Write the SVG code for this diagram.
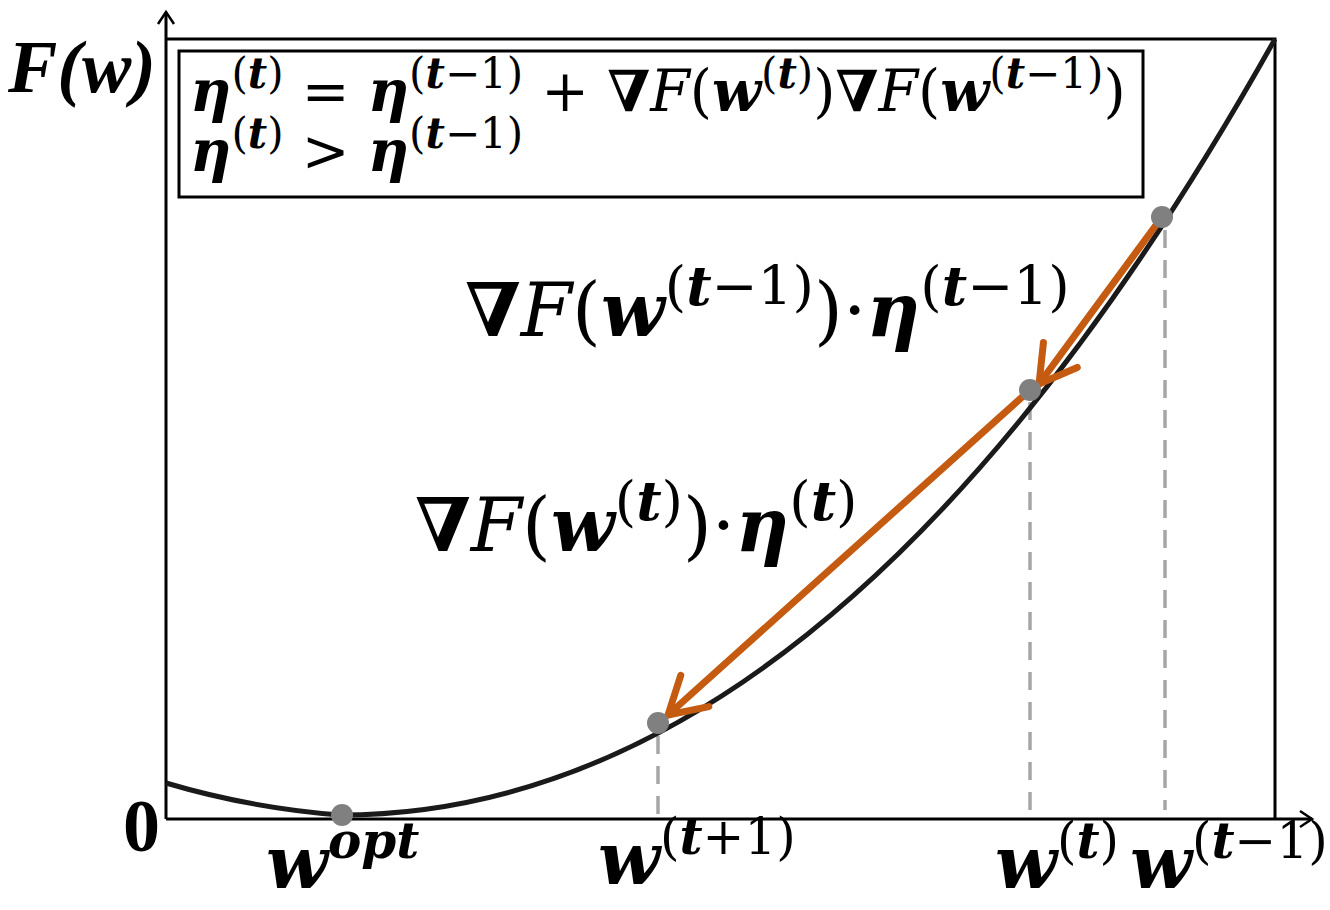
<svg xmlns="http://www.w3.org/2000/svg" width="1330" height="910" viewBox="0 0 1330 910">
<style>
.ax{stroke:#000;stroke-width:3;fill:none}
.t{font-family:"Liberation Serif","DejaVu Serif",serif;fill:#000}
.m{font-family:"DejaVu Serif","Liberation Serif",serif;fill:#000}
.bi{font-weight:bold;font-style:italic}
.i{font-style:italic}
.b{font-weight:bold}
.dash{stroke:#a6a6a6;stroke-width:3.5;stroke-dasharray:18 12;fill:none}
.arr{stroke:#c55a11;stroke-width:7;fill:none;stroke-linecap:round}
.pt{fill:#808080}
</style>
<defs>
<marker id="ah" markerUnits="userSpaceOnUse" markerWidth="60" markerHeight="60" viewBox="-50 -30 60 60" refX="0" refY="0" orient="auto" overflow="visible">
<path d="M-36,-21 L0,0 L-36,21" fill="none" stroke="#c55a11" stroke-width="7" stroke-linecap="round" stroke-linejoin="round"/>
</marker>
<marker id="ax" markerUnits="userSpaceOnUse" markerWidth="30" markerHeight="30" viewBox="-20 -15 30 30" refX="0" refY="0" orient="auto" overflow="visible">
<path d="M-12,-8 L0,0 L-12,8" fill="none" stroke="#000" stroke-width="2.5"/>
</marker>
</defs>
<rect width="1330" height="910" fill="#fff"/>
<g id="axes">
<line class="ax" x1="166" y1="819" x2="166" y2="12" marker-end="url(#ax)"/>
<line class="ax" x1="166" y1="819" x2="1312" y2="819" marker-end="url(#ax)"/>
<polyline class="ax" points="166,39 1275,39 1275,819"/>
</g>
<g id="guides">
<line class="dash" x1="658" y1="736" x2="658" y2="819"/>
<line class="dash" x1="1030" y1="402" x2="1030" y2="819"/>
<line class="dash" x1="1165" y1="230" x2="1165" y2="810"/>
</g>
<g id="curve">
<path d="M166,783 Q250,808 340,815 Q840,815 1275,39" fill="none" stroke="#1a1a1a" stroke-width="5"/>
</g>
<g id="formula-box">
<rect x="179" y="51" width="964" height="146" fill="none" stroke="#000" stroke-width="3"/>
<text class="m" x="190" y="111" font-size="57"><tspan class="bi">η</tspan><tspan font-size="42" dy="-23">(<tspan class="bi">t</tspan>)</tspan><tspan dy="23"> = </tspan><tspan class="bi">η</tspan><tspan font-size="42" dy="-23">(<tspan class="bi">t</tspan>−1)</tspan><tspan dy="23"> + </tspan><tspan class="b">∇</tspan><tspan class="i">F</tspan>(<tspan class="bi">w</tspan><tspan font-size="42" dy="-23">(<tspan class="bi">t</tspan>)</tspan><tspan dy="23">)</tspan><tspan class="b">∇</tspan><tspan class="i">F</tspan>(<tspan class="bi">w</tspan><tspan font-size="42" dy="-23">(<tspan class="bi">t</tspan>−1)</tspan><tspan dy="23">)</tspan></text>
<text class="m" x="190" y="171" font-size="57"><tspan class="bi">η</tspan><tspan font-size="42" dy="-23">(<tspan class="bi">t</tspan>)</tspan><tspan dy="23"> &gt; </tspan><tspan class="bi">η</tspan><tspan font-size="42" dy="-23">(<tspan class="bi">t</tspan>−1)</tspan></text>
</g>
<g id="connectors">
<line class="arr" x1="1162" y1="217" x2="1039" y2="384" marker-end="url(#ah)"/>
<line class="arr" x1="1030" y1="390" x2="668" y2="715" marker-end="url(#ah)"/>
</g>
<g id="points">
<circle class="pt" cx="342" cy="815" r="11"/>
<circle class="pt" cx="658" cy="723" r="11"/>
<circle class="pt" cx="1030" cy="390" r="11"/>
<circle class="pt" cx="1162" cy="217" r="11"/>
</g>
<g id="labels">
<text class="t bi" x="8" y="92" font-size="74">F(w)</text>
<text class="t b" x="123" y="851" font-size="74">0</text>
<text class="m" x="465" y="336" font-size="74"><tspan class="b">∇</tspan><tspan class="i">F</tspan>(<tspan class="bi">w</tspan><tspan font-size="55" dy="-31">(<tspan class="bi">t</tspan>−1)</tspan><tspan dy="31">)·</tspan><tspan class="bi">η</tspan><tspan font-size="55" dy="-31">(<tspan class="bi">t</tspan>−1)</tspan></text>
<text class="m" x="415" y="551" font-size="74"><tspan class="b">∇</tspan><tspan class="i">F</tspan>(<tspan class="bi">w</tspan><tspan font-size="55" dy="-31">(<tspan class="bi">t</tspan>)</tspan><tspan dy="31">)·</tspan><tspan class="bi">η</tspan><tspan font-size="55" dy="-31">(<tspan class="bi">t</tspan>)</tspan></text>
<text class="m" x="266" y="888" font-size="72"><tspan class="bi">w</tspan><tspan class="bi" font-size="50" dy="-30">opt</tspan></text>
<text class="m" x="598" y="884" font-size="72"><tspan class="bi">w</tspan><tspan font-size="50" dy="-30">(<tspan class="bi">t</tspan>+1)</tspan></text>
<text class="m" x="995" y="888" font-size="72"><tspan class="bi">w</tspan><tspan font-size="50" dy="-30">(<tspan class="bi">t</tspan>)</tspan></text>
<text class="m" x="1130" y="888" font-size="72"><tspan class="bi">w</tspan><tspan font-size="50" dy="-30">(<tspan class="bi">t</tspan>−1)</tspan></text>
</g>
</svg>
